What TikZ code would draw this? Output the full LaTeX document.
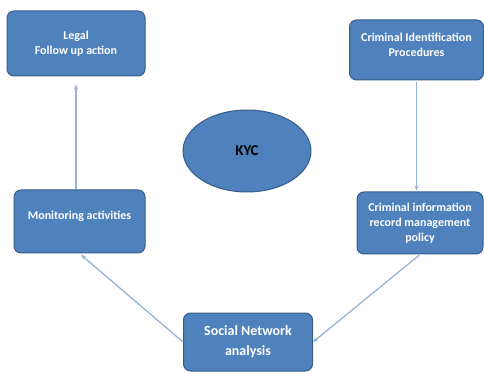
\documentclass[tikz,border=0pt]{standalone}
\usepackage{fontspec}
\setmainfont{Carlito}
\usetikzlibrary{arrows.meta,shapes.geometric}
\definecolor{boxblue}{RGB}{79,129,189}
\definecolor{edgeblue}{RGB}{56,93,138}
\definecolor{flowblue}{RGB}{149,179,215}
\tikzset{
  stepbox/.style={draw=edgeblue, line width=1pt, fill=boxblue,
                  rounded corners=7pt, align=center, text=white,
                  font=\fontsize{12}{15}\selectfont\bfseries, inner sep=3pt},
  hub/.style={ellipse, draw=edgeblue, line width=1pt, fill=boxblue,
              text=black, font=\fontsize{15}{18}\selectfont\bfseries,
              inner sep=0pt},
  flow/.style={-{Stealth[length=5pt,width=4pt]}, draw=flowblue,
               line width=1.3pt},
}
\begin{document}
\begin{tikzpicture}[x=1pt,y=1pt]
  \path[use as bounding box] (0,0) rectangle (484,372);

  \node[stepbox, minimum width=138, minimum height=65] (LEG) at (76,328.5)
    {Legal\\Follow up action};
  \node[stepbox, minimum width=134, minimum height=60, text depth=11pt]
    (CID) at (416.5,322)
    {Criminal Identification\\Procedures};
  \node[hub, minimum width=128, minimum height=82] (KYC) at (247,221) {KYC};
  \node[stepbox, minimum width=131, minimum height=63, text depth=13pt]
    (MON) at (79.5,150.5)
    {Monitoring activities};
  \node[stepbox, minimum width=126, minimum height=62] (CINF) at (420,149)
    {Criminal information\\record management\\policy};
  \node[stepbox, minimum width=129, minimum height=58,
        font=\fontsize{14}{20}\selectfont\bfseries] (SNA) at (248,30)
    {Social Network\\analysis};

  \draw[flow, shorten >=8pt] (MON.north -| LEG.south) -- (LEG.south);
  \draw[flow, shorten <=2pt, shorten >=1pt] (CID.south) -- (CID.south |- CINF.north);
  \draw[flow, shorten <=1pt] (CINF.south) -- (SNA.east);
  \draw[flow, shorten >=2pt] (SNA.west) -- (MON.south);
\end{tikzpicture}
\end{document}
